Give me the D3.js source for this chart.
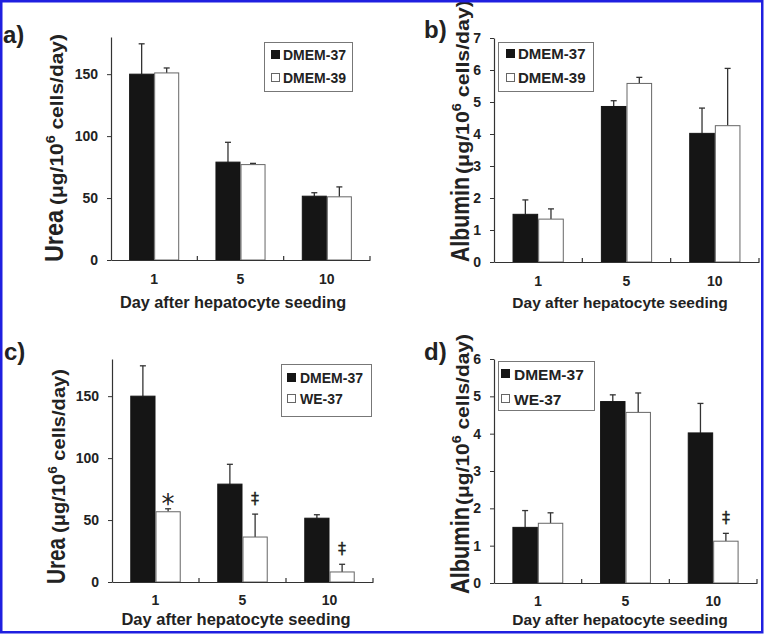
<!DOCTYPE html>
<html><head><meta charset="utf-8">
<script src="https://cdn.jsdelivr.net/npm/d3@7"></script>
<style>body{margin:0;background:#fff}svg{display:block}</style>
</head><body>
<svg id="chart" width="764" height="634"></svg>
<script>
// ---------- data ----------
const days = ["1", "5", "10"];
const ureaDMEM37 = [150, 79, 51.5];
const ureaDMEM37Err = [24.5, 16, 2.8];
const ureaDMEM39 = [151, 77, 51];
const ureaDMEM39Err = [4, 1, 8];
const ureaWE37 = [56.7, 36.3, 8.1];
const ureaWE37Err = [2.4, 18.5, 6.2];
const albDMEM37 = [1.49, 4.86, 4.02];
const albDMEM37Err = [0.45, 0.18, 0.79];
const albDMEM39 = [1.34, 5.58, 4.26];
const albDMEM39Err = [0.32, 0.19, 1.79];
const albWE37 = [1.6, 4.57, 1.12];
const albWE37Err = [0.28, 0.52, 0.21];
const ureaTicks = [0, 50, 100, 150];
const albTicksB = [0, 1, 2, 3, 4, 5, 6, 7];
const albTicksD = [0, 1, 2, 3, 4, 5, 6];
const marksC = [{i: 1, k: 0, s: "*"}, {i: 1, k: 1, s: "\u2021"}, {i: 1, k: 2, s: "\u2021"}];
const marksD = [{i: 1, k: 2, s: "\u2021"}];
const xTitle = "Day after hepatocyte seeding";

// ---------- styles / layout ----------
const FONT = "'Liberation Sans', Arial, Helvetica, sans-serif";
const INK = "#222";
const svg = d3.select("#chart");
svg.style("font-family", FONT);

const BLACK = {fill: "#151515", stroke: "#151515"};
const WHITE = {fill: "#ffffff", stroke: "#666"};

const panels = [
  {tag: "a)", tagX: 3, tagY: 43, x0: 111, x1: 370, y0: 260, yTop: 37, max: 180, ticks: ureaTicks,
   series: [{name: "DMEM-37", v: ureaDMEM37, e: ureaDMEM37Err, st: BLACK}, {name: "DMEM-39", v: ureaDMEM39, e: ureaDMEM39Err, st: WHITE}],
   leg: {x: 264, y: 42, w: 88, h: 49, rows: [55, 78], mx: 271, tx: 283, fs: 14},
   yt: {main: "Urea", x: 63, y: 262, mainLen: 52, parenLen: 171, gap: 5, fsMain: 25, fsParen: 19},
   tickY: 284, titleY: 308, titleX: 233, fs: 14, titleFs: 16.3, marks: []},
  {tag: "b)", tagX: 424, tagY: 38, x0: 494, x1: 759, y0: 262, yTop: 38, max: 7, ticks: albTicksB,
   series: [{name: "DMEM-37", v: albDMEM37, e: albDMEM37Err, st: BLACK}, {name: "DMEM-39", v: albDMEM39, e: albDMEM39Err, st: WHITE}],
   leg: {x: 498, y: 42, w: 95, h: 49, rows: [54, 78], mx: 506, tx: 518, fs: 15},
   yt: {main: "Albumin", x: 469, y: 262, mainLen: 85, parenLen: 174, gap: 3, fsMain: 25, fsParen: 19},
   tickY: 286, titleY: 308, titleX: 620, fs: 14, titleFs: 15.5, marks: []},
  {tag: "c)", tagX: 4, tagY: 360, x0: 112, x1: 373, y0: 582, yTop: 359, max: 180, ticks: ureaTicks,
   series: [{name: "DMEM-37", v: ureaDMEM37, e: ureaDMEM37Err, st: BLACK}, {name: "WE-37", v: ureaWE37, e: ureaWE37Err, st: WHITE}],
   leg: {x: 281, y: 364, w: 90, h: 52, rows: [378, 399], mx: 287, tx: 300, fs: 14},
   yt: {main: "Urea", x: 65, y: 584, mainLen: 46, parenLen: 164, gap: 5, fsMain: 25, fsParen: 19},
   tickY: 605, titleY: 625, titleX: 236, fs: 14, titleFs: 16.5, marks: marksC},
  {tag: "d)", tagX: 424, tagY: 360, x0: 494, x1: 757, y0: 583, yTop: 359, max: 6, ticks: albTicksD,
   series: [{name: "DMEM-37", v: albDMEM37, e: albDMEM37Err, st: BLACK}, {name: "WE-37", v: albWE37, e: albWE37Err, st: WHITE}],
   leg: {x: 498, y: 361, w: 96, h: 49, rows: [374, 399], mx: 501, tx: 514, fs: 15.5},
   yt: {main: "Albumin", x: 469, y: 594, mainLen: 87, parenLen: 171, gap: 2, fsMain: 25, fsParen: 19},
   tickY: 606, titleY: 625, titleX: 620, fs: 14, titleFs: 15.5, marks: marksD}
];

function drawPanel(p) {
  const g = svg.append("g");
  const x = d3.scaleBand().domain(days).range([p.x0, p.x1]);
  const bw = x.bandwidth();
  const xs = d3.scaleBand().domain(d3.range(p.series.length)).range([bw * 0.21, bw * 0.79]);
  const y = d3.scaleLinear().domain([0, p.max]).range([p.y0, p.yTop]);

  // error bars (drawn first so bars cover their base)
  p.series.forEach((s, si) => {
    const eg = g.append("g").attr("stroke", "#333").attr("stroke-width", 1.3);
    days.forEach((d, i) => {
      const cx = x(d) + xs(si) + xs.bandwidth() / 2;
      const yt = y(s.v[i] + s.e[i]);
      eg.append("line").attr("x1", cx).attr("x2", cx).attr("y1", y(s.v[i])).attr("y2", yt);
      eg.append("line").attr("x1", cx - 3).attr("x2", cx + 3).attr("y1", yt).attr("y2", yt);
    });
  });
  // bars
  p.series.forEach((s, si) => {
    g.append("g").selectAll("rect").data(days).join("rect")
      .attr("x", d => x(d) + xs(si) + 0.5)
      .attr("width", xs.bandwidth() - 1)
      .attr("y", (d, i) => y(s.v[i]))
      .attr("height", (d, i) => p.y0 - y(s.v[i]))
      .attr("fill", s.st.fill).attr("stroke", s.st.stroke).attr("stroke-width", 1);
  });

  // y axis
  const ya = g.append("g").attr("transform", `translate(${p.x0},0)`)
    .call(d3.axisLeft(y).tickValues(p.ticks).tickFormat(d3.format("d"))
      .tickSize(4).tickSizeOuter(0).tickPadding(9));
  ya.select(".domain").attr("stroke", "#333").attr("stroke-width", 1.2);
  ya.selectAll(".tick line").attr("stroke", "#333");
  ya.selectAll(".tick text").attr("fill", INK).attr("font-size", p.fs).attr("font-weight", "bold")
    .attr("font-family", FONT);

  // x axis: line, inner ticks at band boundaries, labels
  const xa = g.append("g").attr("transform", `translate(0,${p.y0})`)
    .call(d3.axisBottom(x).tickSize(0).tickSizeOuter(0).tickPadding(0));
  xa.select(".domain").attr("stroke", "#333").attr("stroke-width", 1.2);
  xa.selectAll(".tick text").attr("fill", INK).attr("font-size", p.fs).attr("font-weight", "bold")
    .attr("font-family", FONT).attr("dy", null).attr("y", p.tickY - p.y0);
  g.append("g").selectAll("line").data(days).join("line")
    .attr("x1", d => x(d) + bw).attr("x2", d => x(d) + bw)
    .attr("y1", p.y0).attr("y2", p.y0 - 4).attr("stroke", "#333").attr("stroke-width", 1.2);

  // x title
  g.append("text").attr("x", p.titleX).attr("y", p.titleY).attr("text-anchor", "middle")
    .attr("font-size", p.titleFs).attr("font-weight", "bold").attr("fill", INK).text(xTitle);

  // y title (rotated; stretched to measured lengths)
  const t = p.yt;
  const mt = g.append("text").attr("font-size", t.fsMain).attr("font-weight", "bold").attr("fill", INK).text(t.main);
  const mlen = mt.node().getComputedTextLength();
  mt.attr("transform", `translate(${t.x},${t.y}) rotate(-90) scale(${t.mainLen / mlen},1)`);
  const pt = g.append("text").attr("font-size", t.fsParen).attr("font-weight", "bold").attr("fill", INK);
  pt.append("tspan").text("(\u03bcg/10");
  pt.append("tspan").attr("font-size", t.fsParen * 0.68).attr("dy", -t.fsParen * 0.42).text("6");
  pt.append("tspan").attr("dy", t.fsParen * 0.42).text(" cells/day)");
  const plen = pt.node().getComputedTextLength();
  pt.attr("transform", `translate(${t.x},${t.y - t.mainLen - t.gap}) rotate(-90) scale(${t.parenLen / plen},1)`);

  // panel tag
  g.append("text").attr("x", p.tagX).attr("y", p.tagY).attr("font-size", 24).attr("font-weight", "bold")
    .attr("fill", INK).text(p.tag);

  // legend
  const L = p.leg;
  g.append("rect").attr("x", L.x + 0.5).attr("y", L.y + 0.5).attr("width", L.w).attr("height", L.h)
    .attr("fill", "#fff").attr("stroke", "#777").attr("stroke-width", 1);
  p.series.forEach((s, si) => {
    const cy = L.rows[si];
    g.append("rect").attr("x", L.mx + 0.5).attr("y", cy - 4.5).attr("width", 8).attr("height", 8)
      .attr("fill", s.st.fill).attr("stroke", s.st.stroke).attr("stroke-width", 1);
    g.append("text").attr("x", L.tx).attr("y", cy + L.fs * 0.36).attr("font-size", L.fs)
      .attr("font-weight", "bold").attr("fill", INK).text(s.name);
  });

  // significance marks
  p.marks.forEach(m => {
    const s = p.series[m.i];
    const cx = x(days[m.k]) + xs(m.i) + xs.bandwidth() / 2;
    const top = y(s.v[m.k] + s.e[m.k]);
    if (m.s === "*") {
      g.append("text").attr("x", cx).attr("y", top + 4).attr("text-anchor", "middle")
        .attr("font-family", "'DejaVu Sans', sans-serif")
        .attr("font-size", 26).attr("fill", INK).text(m.s);
    } else {
      g.append("text").attr("x", cx).attr("y", top - 10).attr("text-anchor", "middle")
        .attr("font-family", "'DejaVu Sans', sans-serif")
        .attr("font-size", 16).attr("fill", INK).attr("stroke", INK).attr("stroke-width", 0.3).text(m.s);
    }
  });
}

panels.forEach(drawPanel);

// blue frame
svg.append("rect").attr("x", 1.25).attr("y", 1.25).attr("width", 761).attr("height", 631)
  .attr("fill", "none").attr("stroke", "#1f1fe0").attr("stroke-width", 2.5);
</script>
</body></html>
